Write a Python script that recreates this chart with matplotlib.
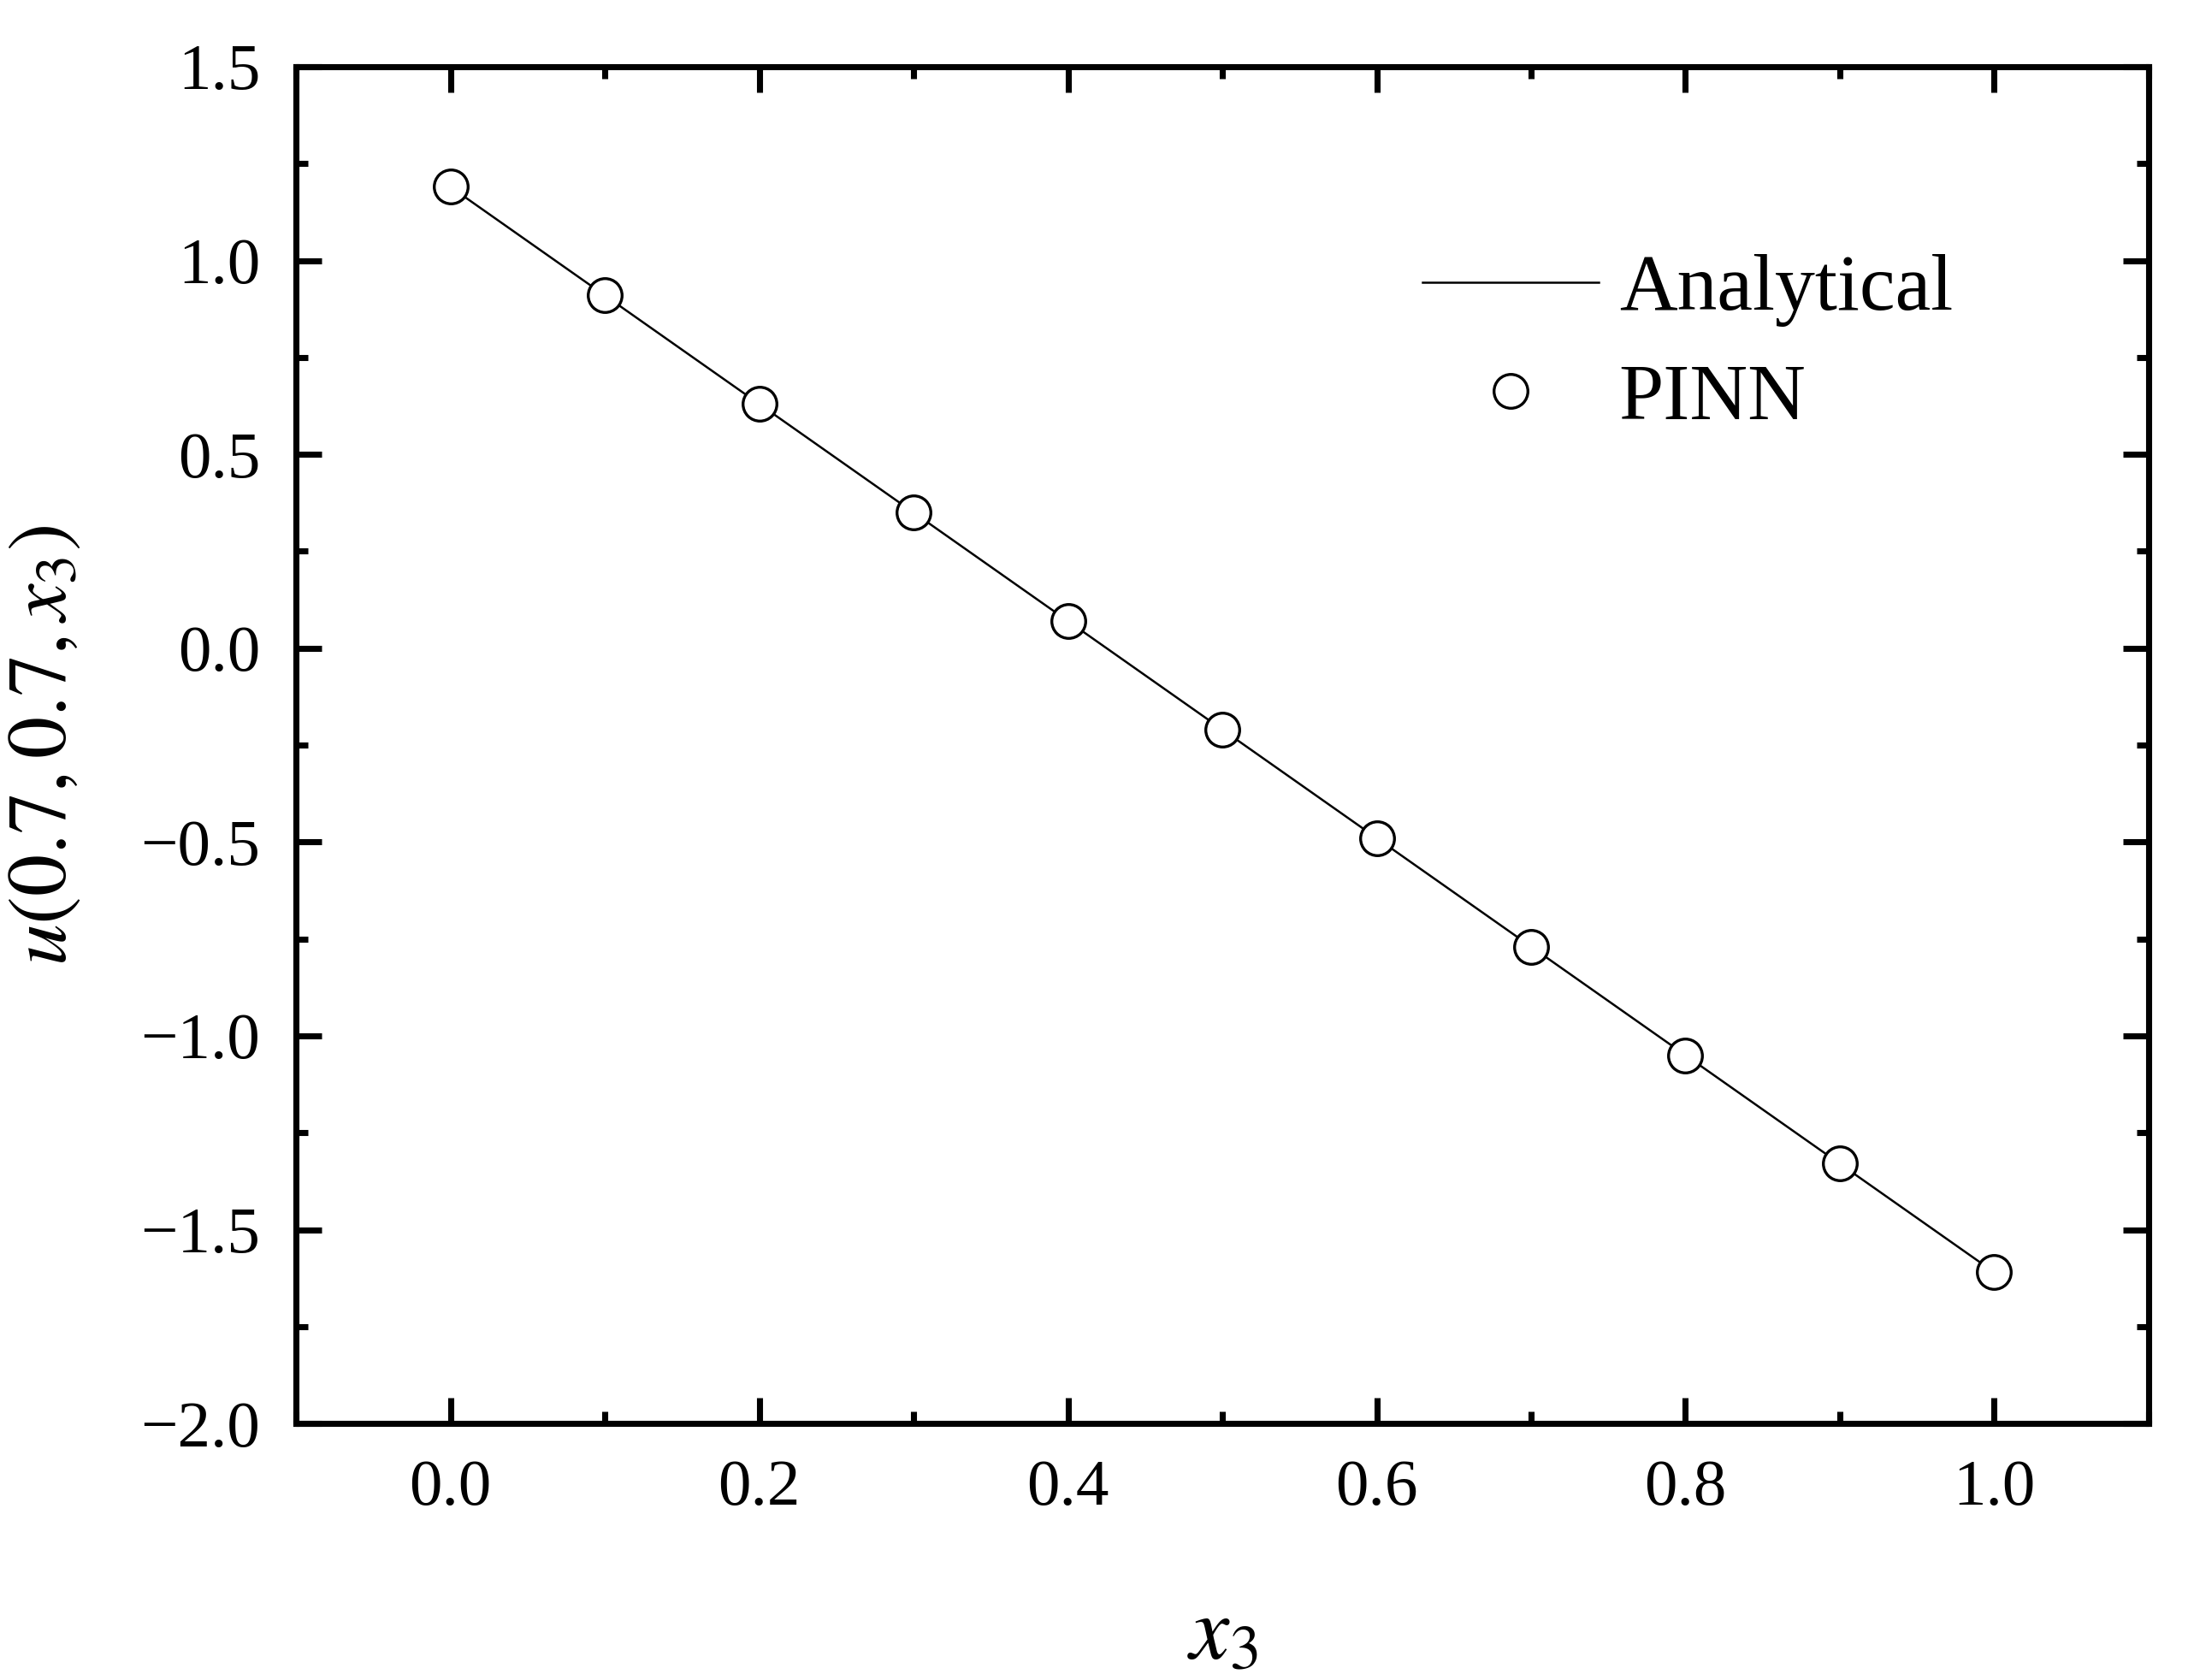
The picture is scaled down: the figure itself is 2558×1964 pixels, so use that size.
import numpy as np
import matplotlib
matplotlib.use("Agg")
import matplotlib.pyplot as plt

# values
x3 = [0.0, 0.1, 0.2, 0.3, 0.4, 0.5, 0.6, 0.7, 0.8, 0.9, 1.0]
u_analytical = [1.19, 0.91, 0.63, 0.35, 0.07, -0.21, -0.49, -0.77, -1.05, -1.33, -1.61]
u_pinn = [1.19, 0.91, 0.63, 0.35, 0.07, -0.21, -0.49, -0.77, -1.05, -1.33, -1.61]

xticks = [0.0, 0.2, 0.4, 0.6, 0.8, 1.0]
yticks = [-2.0, -1.5, -1.0, -0.5, 0.0, 0.5, 1.0, 1.5]

plt.rcParams['font.family'] = ['Liberation Serif', 'DejaVu Serif']
plt.rcParams['mathtext.fontset'] = 'stix'

fig = plt.figure(figsize=(2558 / 300, 1964 / 300), dpi=300)
ax = fig.add_axes([0.1353, 0.1527, 0.982 - 0.1353, 0.9603 - 0.1527])

ax.plot(x3, u_analytical, color='black', linewidth=0.6, label='Analytical', zorder=2)
ax.plot(x3, u_pinn, linestyle='none', marker='o', markersize=9.5,
        markerfacecolor='white', markeredgecolor='black', markeredgewidth=0.8,
        label='PINN', zorder=3)

ax.set_xlim(-0.1, 1.1)
ax.set_ylim(-2.0, 1.5)
ax.set_xticks(xticks)
ax.set_yticks(yticks)
ax.set_xticklabels([f'{v:.1f}' for v in xticks])
ax.set_yticklabels([f'{v:.1f}'.replace('-', '\u2212') for v in yticks])
ax.set_xticks(np.arange(-0.1, 1.11, 0.1), minor=True)
ax.set_yticks(np.arange(-2.0, 1.51, 0.25), minor=True)

ax.tick_params(which='both', direction='in', top=True, right=True, width=1.7)
ax.tick_params(which='major', length=7.2, labelsize=18.5, pad=10)
ax.tick_params(which='minor', length=3.4)
for s in ax.spines.values():
    s.set_linewidth(1.7)

ax.set_xlabel(r'$x_3$', fontsize=25, labelpad=22)
ax.set_ylabel(r'$u(0.7,0.7,x_3)$', fontsize=23.5, labelpad=16)

ax.legend(loc='upper left', bbox_to_anchor=(0.608, 0.862), frameon=False,
          fontsize=22.5, handlelength=2.2, handletextpad=0.25, labelspacing=0.45,
          borderpad=0, borderaxespad=0)

fig.savefig('out.png', dpi=300)
